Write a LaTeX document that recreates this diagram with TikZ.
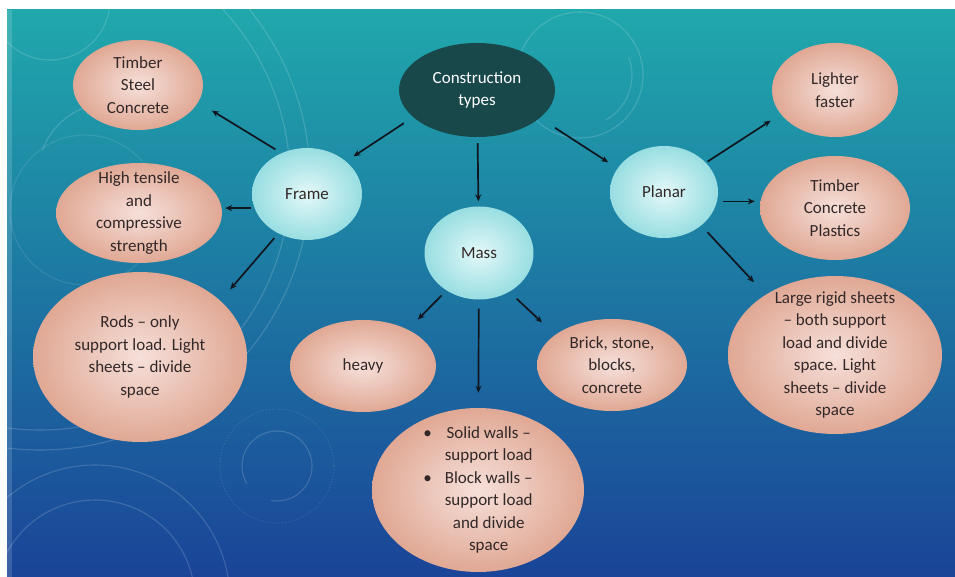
\documentclass[tikz,border=0pt]{standalone}
\usepackage{fontspec}
\setmainfont{Carlito}
\usetikzlibrary{shapes.geometric,arrows.meta}

\definecolor{slidetop}{RGB}{32,168,172}
\definecolor{slidemid}{RGB}{24,122,172}
\definecolor{slidebot}{RGB}{26,68,152}
\definecolor{peachin}{RGB}{246,224,218}
\definecolor{peachout}{RGB}{224,168,148}
\definecolor{aquain}{RGB}{228,248,248}
\definecolor{aquaout}{RGB}{152,222,226}
\definecolor{darkteal}{RGB}{24,72,74}
\definecolor{inktext}{RGB}{50,40,40}
\definecolor{arrowink}{RGB}{16,22,32}

\begin{document}
\begin{tikzpicture}[x=1pt,y=-1pt,
    every node/.style={font=\fontsize{17}{22.5}\selectfont, text=inktext, align=center},
    bubble/.style 2 args={ellipse, inner sep=-20pt, minimum width=#1, minimum height=#2},
    peach/.style={inner color=peachin, outer color=peachout},
    aqua/.style={inner color=aquain, outer color=aquaout},
    link/.style={-{Stealth[length=7pt,width=6pt]}, line width=1.7pt, draw=arrowink},
    ring/.style={draw=white, line width=1.1pt, opacity=0.16}]
    \useasboundingbox (0,0) rectangle (955,577);

    % Slide background
    \fill[white] (0,0) rectangle (955,577);
    \shade[top color=slidetop, middle color=slidemid, bottom color=slidebot] (7,10) rectangle (955,577);
    \fill[white, opacity=0.15] (7,10) rectangle (12,577);

    % Background rings
    \begin{scope}
        \clip (7,10) rectangle (955,577);
        \draw[ring] (40,180) circle[radius=250];
        \draw[ring] (40,180) circle[radius=270];
        \draw[ring] (50,0) circle[radius=60];
        \draw[ring] (110,175) ++(200:72) arc[start angle=200, end angle=265, radius=72];
        \draw[ring, opacity=0.1] (85,210) circle[radius=75];
        \draw[ring] (580,75) circle[radius=63];
        \draw[ring] (580,75) ++(-20:52) arc[start angle=-20, end angle=60, radius=52];
        \draw[ring] (277,466) ++(150:35) arc[start angle=150, end angle=460, radius=35];
        \draw[ring, dotted, opacity=0.12] (277,466) circle[radius=57];
        \draw[ring] (95,600) circle[radius=100];
        \draw[ring] (95,600) circle[radius=135];
    \end{scope}

    % Centre
    \node[bubble={156}{94}, fill=darkteal, text=white] (types) at (477,90) {Construction\\types};

    % Second level
    \node[bubble={110}{92}, aqua] (frame) at (307,194) {Frame};
    \node[bubble={109}{93}, aqua] (mass) at (479,253) {Mass};
    \node[bubble={108}{92}, aqua] (planar) at (664,192) {Planar};

    % Frame details
    \node[bubble={130}{90}, peach] (members) at (138,85) {Timber\\Steel\\Concrete};
    \node[bubble={166}{100}, peach] (strength) at (139,213) {High tensile\\and\\compressive\\strength};
    \node[bubble={214}{170}, peach] (rods) at (140,357) {Rods – only\\support load. Light\\sheets – divide\\space};

    % Mass details
    \node[bubble={146}{92}, peach] (heavy) at (363,366) {heavy};
    \node[bubble={150}{92}, peach] (brick) at (612,365) {Brick, stone,\\blocks,\\concrete};
    \node[bubble={212}{164}, peach] (walls) at (478,490) {\begin{tabular}{@{}c@{\hspace{13pt}}c@{}}
        • & Solid walls –\\ & support load\\ • & Block walls –\\ & support load\\ & and divide\\ & space
    \end{tabular}};

    % Planar details
    \node[bubble={126}{94}, peach] (lighter) at (835,90) {Lighter\\faster};
    \node[bubble={150}{104}, peach] (sheets) at (835,208) {Timber\\Concrete\\Plastics};
    \node[bubble={214}{158}, peach] (rigid) at (835,355) {Large rigid sheets\\– both support\\load and divide\\space. Light\\sheets – divide\\space};

    % Links
    \draw[link, shorten <=11pt, shorten >=9pt] (types.203) -- (frame.40);
    \draw[link, shorten <=18pt, shorten >=11pt] (types.-24) -- (planar.153);
    \draw[link, shorten <=6pt, shorten >=5pt] (types) -- (mass);
    \draw[link, shorten <=7pt, shorten >=16pt] (frame.122) -- (members.-16);
    \draw[link, shorten <=3pt, shorten >=3pt] (frame.-165) -- (frame.-165 -| strength.east);
    \draw[link, shorten <=6pt, shorten >=15pt] (frame.234) -- (rods.35);
    \draw[link, shorten <=7pt, shorten >=14pt] (mass.229) -- (heavy.39);
    \draw[link, shorten <=9pt, shorten >=15pt] (mass) -- (walls);
    \draw[link, shorten <=10pt, shorten >=18pt] (mass.-52) -- (brick.152);
    \draw[link, shorten <=2pt, shorten >=12pt] (planar.35) -- (lighter.204);
    \draw[link, shorten <=6pt, shorten >=5pt] (planar.-10) -- (planar.-10 -| sheets.west);
    \draw[link, shorten <=9pt, shorten >=17pt] (planar.-42) -- (rigid.139);
\end{tikzpicture}
\end{document}
